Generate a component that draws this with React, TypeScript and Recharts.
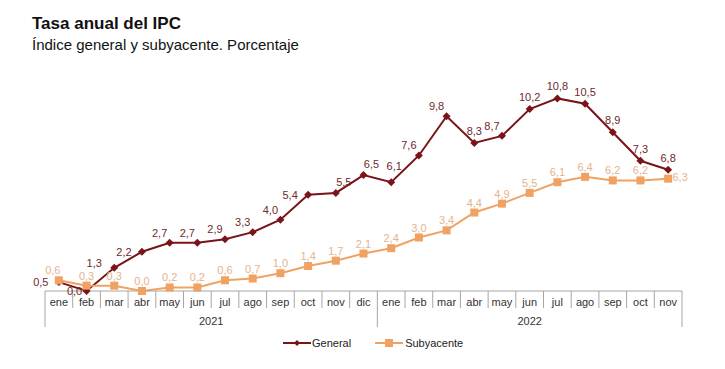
import { Line, LineChart, XAxis, YAxis, LabelList } from "recharts";

const meses = [
	"ene", "feb", "mar", "abr", "may", "jun", "jul", "ago", "sep", "oct", "nov", "dic",
	"ene", "feb", "mar", "abr", "may", "jun", "jul", "ago", "sep", "oct", "nov",
];
const anios = [
	"2021", "2021", "2021", "2021", "2021", "2021", "2021", "2021", "2021", "2021", "2021", "2021",
	"2022", "2022", "2022", "2022", "2022", "2022", "2022", "2022", "2022", "2022", "2022",
];
const general = [0.5, 0.0, 1.3, 2.2, 2.7, 2.7, 2.9, 3.3, 4.0, 5.4, 5.5, 6.5, 6.1, 7.6, 9.8, 8.3, 8.7, 10.2, 10.8, 10.5, 8.9, 7.3, 6.8];
const subyacente = [0.6, 0.3, 0.3, 0.0, 0.2, 0.2, 0.6, 0.7, 1.0, 1.4, 1.7, 2.1, 2.4, 3.0, 3.4, 4.4, 4.9, 5.5, 6.1, 6.4, 6.2, 6.2, 6.3];

// dónde va cada etiqueta respecto a su punto
const posGeneral = [
	"izq", "abajoIzq", "izqAlto", "izq", "arribaIzq", "arribaIzq", "arribaIzq", "arribaIzq", "arribaIzq", "izq", "arribaDer", "arribaDer",
	"arribaAlto", "arribaIzq", "arribaIzq", "arriba", "arribaIzq", "arriba", "arriba", "arriba", "arriba", "arriba", "arriba",
];
const posSubyacente = [
	"arribaIzq", "arriba", "arriba", "arriba", "arriba", "arriba", "arriba", "arriba", "arriba", "arriba", "arriba", "arriba",
	"arriba", "arriba", "arriba", "arriba", "arriba", "arriba", "arriba", "arriba", "arriba", "arriba", "der",
];

const dados = meses.map((mes, i) => ({
	mes,
	anio: anios[i],
	general: general[i],
	subyacente: subyacente[i],
}));

const ROJO = "#7a1418";
const NARANJA = "#f0a262";
const GRIS = "#a6a6a6";
const FONT = "'Liberation Sans', Arial, sans-serif";

const M = { top: 77, right: 43, bottom: 38, left: 45 };
const W = 725;
const H = 369;
const BW = (W - M.left - M.right) / meses.length;

const OFFSETS: { [k: string]: [number, number] } = {
	izq: [-18, 0],
	izqAlto: [-20, -5],
	abajoIzq: [-12, 0],
	arribaIzq: [-10, -10],
	arriba: [0, -12],
	arribaAlto: [3, -16],
	arribaDer: [8, -11],
	der: [12, -2],
};
const OFFSETS_SUB: { [k: string]: [number, number] } = {
	arribaIzq: [-6, -10],
	arriba: [0, -10],
	der: [12, -2],
};

const fmt = (v: number) => v.toFixed(1).replace(".", ",");

const MesTick = (props: any) => {
	const { x, y, payload } = props;
	const i = payload.index;
	const anio = anios[i];
	const first = anios.indexOf(anio);
	const last = anios.lastIndexOf(anio);
	const mid = (first + last) / 2;
	const largo = i === first;
	return (
		<g>
			<line x1={x - BW / 2} x2={x - BW / 2} y1={y} y2={y + (largo ? 36 : 17)} stroke={GRIS} strokeWidth={1} />
			{i === meses.length - 1 && (
				<line x1={x + BW / 2} x2={x + BW / 2} y1={y} y2={y + 36} stroke={GRIS} strokeWidth={1} />
			)}
			<text x={x} y={y + 15} textAnchor='middle' fontSize={11} fill='#333' fontFamily={FONT}>
				{payload.value}
			</text>
			{i === Math.floor(mid) && (
				<text x={x + (mid - i) * BW} y={y + 34} textAnchor='middle' fontSize={11} fill='#333' fontFamily={FONT}>
					{anio}
				</text>
			)}
		</g>
	);
};

const Rombo = (props: any) => {
	const { cx, cy } = props;
	if (cx == null || cy == null) return null;
	const r = 4;
	return <path d={`M${cx},${cy - r}L${cx + r},${cy}L${cx},${cy + r}L${cx - r},${cy}Z`} fill={ROJO} />;
};

const Cuadrado = (props: any) => {
	const { cx, cy } = props;
	if (cx == null || cy == null) return null;
	return <rect x={cx - 4} y={cy - 4} width={8} height={8} fill={NARANJA} />;
};

const etiqueta = (color: string, pos: string[], offs: { [k: string]: [number, number] }) => (props: any) => {
	const { x, y, value, index } = props;
	const [dx, dy] = offs[pos[index]] || offs.arriba;
	return (
		<text x={x + dx} y={y + dy + 4} textAnchor='middle' fontSize={11} fill={color} fontFamily={FONT}>
			{fmt(value)}
		</text>
	);
};

const Leyenda = () => (
	<div
		style={{
			position: "absolute",
			top: 337,
			left: 283,
			display: "flex",
			alignItems: "center",
			fontFamily: FONT,
			fontSize: 11,
			color: "#222",
		}}
	>
		<svg width={28} height={10}>
			<line x1={0} x2={28} y1={5} y2={5} stroke={ROJO} strokeWidth={2} />
			<path d='M14,2L17,5L14,8L11,5Z' fill={ROJO} />
		</svg>
		<span style={{ marginLeft: 1, marginRight: 24 }}>General</span>
		<svg width={28} height={10}>
			<line x1={0} x2={28} y1={5} y2={5} stroke={NARANJA} strokeWidth={2} />
			<rect x={10} y={1} width={8} height={8} fill={NARANJA} />
		</svg>
		<span style={{ marginLeft: 2 }}>Subyacente</span>
	</div>
);

const App = () => {
	return (
		<div style={{ position: "absolute", left: 0, top: 0, width: W, height: H, background: "#fff" }}>
			<div style={{ position: "absolute", left: 32, top: 14, fontFamily: FONT, fontSize: 17, fontWeight: "bold", color: "#111" }}>
				Tasa anual del IPC
			</div>
			<div style={{ position: "absolute", left: 32, top: 36, fontFamily: FONT, fontSize: 15, color: "#111" }}>
				Índice general y subyacente. Porcentaje
			</div>
			<LineChart width={W} height={H} data={dados} margin={M} style={{ position: "absolute", left: 0, top: 0 }}>
				<XAxis
					dataKey='mes'
					interval={0}
					tickLine={false}
					tickSize={0}
					tickMargin={0}
					height={40}
					padding={{ left: BW / 2, right: BW / 2 }}
					axisLine={{ stroke: GRIS }}
					tick={<MesTick />}
				/>
				<YAxis hide domain={[0, 12]} />
				<Line
					dataKey='general'
					stroke={ROJO}
					strokeWidth={2}
					dot={<Rombo />}
					activeDot={false}
					isAnimationActive={false}
				>
					<LabelList dataKey='general' content={etiqueta("#6e2a2c", posGeneral, OFFSETS)} />
				</Line>
				<Line
					dataKey='subyacente'
					stroke={NARANJA}
					strokeWidth={2}
					dot={<Cuadrado />}
					activeDot={false}
					isAnimationActive={false}
				>
					<LabelList dataKey='subyacente' content={etiqueta("#e3b48e", posSubyacente, OFFSETS_SUB)} />
				</Line>
			</LineChart>
			<Leyenda />
		</div>
	);
};

export default App;
